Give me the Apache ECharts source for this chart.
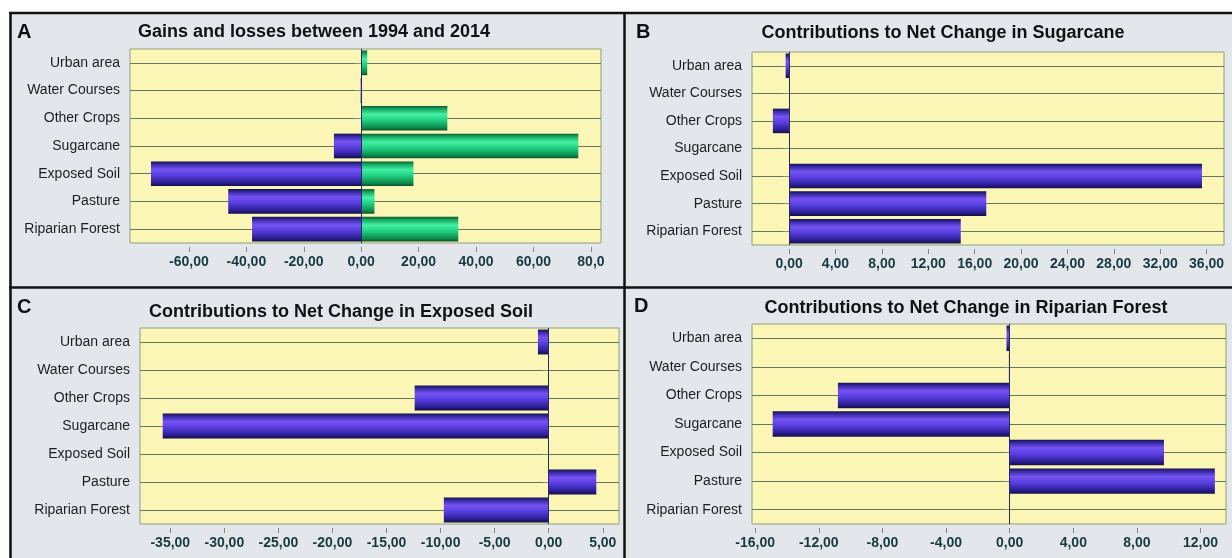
<!DOCTYPE html>
<html>
<head>
<meta charset="utf-8">
<title>Land cover change 1994-2014</title>
<script src="https://cdn.jsdelivr.net/npm/echarts@6.0.0/dist/echarts.min.js"></script>
<style>
	html, body { margin: 0; padding: 0; background: #fff; }
	#main { width: 1232px; height: 558px; }
</style>
</head>
<body>
<div id="main"></div>
<script>
// categories, top to bottom
var categories = [ 'Urban area', 'Water Courses', 'Other Crops', 'Sugarcane', 'Exposed Soil', 'Pasture', 'Riparian Forest' ];

// A: gains and losses (in %)
var lossesA = [ 0, -0.2, 0, -9.5, -73.2, -46.3, -38.0 ];
var gainsA = [ 2.1, 0.3, 30.0, 75.6, 18.2, 4.6, 33.8 ];
// B, C, D: contributions to net change
var netSugarcane = [ -0.3, 0, -1.4, 0, 35.6, 17.0, 14.8 ];
var netExposedSoil = [ -1.0, 0, -12.4, -35.7, 0, 4.4, -9.7 ];
var netRiparian = [ -0.2, -0.05, -10.8, -14.9, 9.7, 12.9, 0 ];

// tick values and their labels
var ticksA = [ -60, -40, -20, 0, 20, 40, 60, 80 ];
var tickLabelsA = [ '-60,00', '-40,00', '-20,00', '0,00', '20,00', '40,00', '60,00', '80,0' ];
var ticksB = [ 0, 4, 8, 12, 16, 20, 24, 28, 32, 36 ];
var tickLabelsB = [ '0,00', '4,00', '8,00', '12,00', '16,00', '20,00', '24,00', '28,00', '32,00', '36,00' ];
var ticksC = [ -35, -30, -25, -20, -15, -10, -5, 0, 5 ];
var tickLabelsC = [ '-35,00', '-30,00', '-25,00', '-20,00', '-15,00', '-10,00', '-5,00', '0,00', '5,00' ];
var ticksD = [ -16, -12, -8, -4, 0, 4, 8, 12 ];
var tickLabelsD = [ '-16,00', '-12,00', '-8,00', '-4,00', '0,00', '4,00', '8,00', '12,00' ];

var titles = [ 'Gains and losses between 1994 and 2014', 'Contributions to Net Change in Sugarcane',
		'Contributions to Net Change in Exposed Soil', 'Contributions to Net Change in Riparian Forest' ];

var sans = 'Liberation Sans, Arial, sans-serif';

var purple = new echarts.graphic.LinearGradient(0, 0, 0, 1, [
	{ offset: 0, color: '#16124e' },
	{ offset: 0.12, color: '#3a2aa8' },
	{ offset: 0.32, color: '#7454f2' },
	{ offset: 0.55, color: '#5a3fe0' },
	{ offset: 0.85, color: '#2c1f98' },
	{ offset: 1, color: '#120e48' } ]);
var green = new echarts.graphic.LinearGradient(0, 0, 0, 1, [
	{ offset: 0, color: '#0a5a32' },
	{ offset: 0.12, color: '#14a860' },
	{ offset: 0.34, color: '#44f0a4' },
	{ offset: 0.58, color: '#20d082' },
	{ offset: 0.88, color: '#0c8a4c' },
	{ offset: 1, color: '#08502c' } ]);

function makeXAxis(idx, min, max, ticks, labels) {
	return {
		type : 'value',
		gridIndex : idx,
		min : min,
		max : max,
		offset : 4,
		axisLine : { show : false },
		axisTick : { show : true, length : 5, customValues : ticks, lineStyle : { color : '#7f8c80' } },
		axisLabel : {
			customValues : ticks,
			margin : 8,
			color : '#163a40',
			fontFamily : sans,
			fontWeight : 'bold',
			fontSize : 14,
			formatter : function(v) {
				var i = ticks.indexOf(v);
				return i < 0 ? '' : labels[i];
			}
		},
		splitLine : { show : false }
	};
}

function makeYAxis(idx) {
	return {
		type : 'category',
		gridIndex : idx,
		data : categories,
		inverse : true,
		axisLine : { show : true, lineStyle : { color : '#7f957a' } },
		axisTick : { show : true, alignWithLabel : true, length : 6, lineStyle : { color : '#7f957a' } },
		axisLabel : { margin : 10, color : '#1e1e1e', fontFamily : sans, fontSize : 14 },
		splitLine : { show : true, alignWithLabel : true, lineStyle : { color : '#62795a', width : 1.2 } }
	};
}

var zeroLine = {
	silent : true,
	symbol : 'none',
	label : { show : false },
	lineStyle : { color : '#2a2a6a', width : 1, type : 'solid' },
	data : [ { xAxis : 0 } ]
};

function makeBar(idx, data, color) {
	return {
		type : 'bar',
		xAxisIndex : idx,
		yAxisIndex : idx,
		data : data,
		barCategoryGap : '11%',
		barGap : '-100%',
		itemStyle : { color : color },
		markLine : zeroLine
	};
}

function makeGrid(left, top, width, height) {
	return {
		left : left, top : top, width : width, height : height,
		show : true,
		backgroundColor : '#fcf6b6',
		borderColor : '#8aa080',
		borderWidth : 1
	};
}

function makeTitle(text, x, y) {
	return {
		text : text,
		left : x,
		top : y,
		textAlign : 'center',
		textStyle : { fontFamily : sans, fontWeight : 'bold', fontSize : 18, color : '#111' }
	};
}

function letter(t, x, y) {
	return {
		type : 'text', left : x, top : y, z : 10,
		style : { text : t, font : 'bold 20px Liberation Sans, Arial, sans-serif', fill : '#111' }
	};
}

function border(x1, y1, x2, y2) {
	return {
		type : 'line', z : 10,
		shape : { x1 : x1, y1 : y1, x2 : x2, y2 : y2 },
		style : { stroke : '#111', lineWidth : 2.5 }
	};
}

var myChart = echarts.init(document.getElementById('main'));

var option = {
	animation : false,
	backgroundColor : '#e3e7eb',
	title : [ makeTitle(titles[0], 309, 18), makeTitle(titles[1], 938, 19),
			makeTitle(titles[2], 336, 298), makeTitle(titles[3], 961, 294) ],
	grid : [ makeGrid(130, 49, 471, 194), makeGrid(752, 52, 472, 193),
			makeGrid(140, 328, 479, 196), makeGrid(752, 324, 474, 200) ],
	xAxis : [ makeXAxis(0, -80.5, 83.5, ticksA, tickLabelsA), makeXAxis(1, -3.2, 37.5, ticksB, tickLabelsB),
			makeXAxis(2, -37.8, 6.5, ticksC, tickLabelsC), makeXAxis(3, -16.2, 13.6, ticksD, tickLabelsD) ],
	yAxis : [ makeYAxis(0), makeYAxis(1), makeYAxis(2), makeYAxis(3) ],
	series : [ makeBar(0, lossesA, purple), makeBar(0, gainsA, green), makeBar(1, netSugarcane, purple),
			makeBar(2, netExposedSoil, purple), makeBar(3, netRiparian, purple) ],
	graphic : [
		{ type : 'rect', z : 5, shape : { x : 0, y : 0, width : 1232, height : 12 }, style : { fill : '#fff' } },
		{ type : 'rect', z : 5, shape : { x : 0, y : 0, width : 9, height : 558 }, style : { fill : '#fff' } },
		border(9, 13, 1232, 13), border(10.5, 12, 10.5, 558),
		border(624.5, 12, 624.5, 558), border(9, 287.5, 1232, 287.5),
		letter('A', 17, 22), letter('B', 636, 22), letter('C', 17, 297), letter('D', 634, 296) ]
};

myChart.setOption(option);
</script>
</body>
</html>
